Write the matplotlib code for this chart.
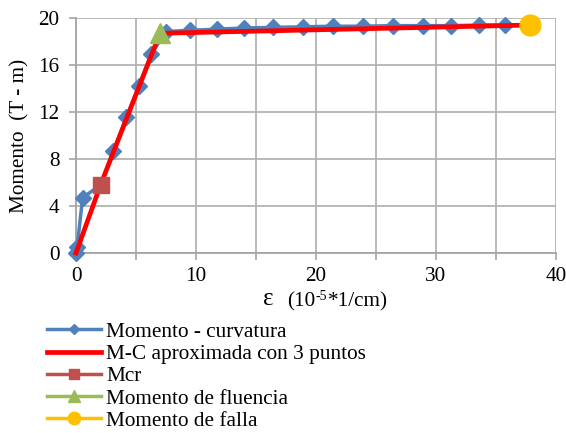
import matplotlib
matplotlib.use("Agg")
import matplotlib.pyplot as plt

plt.rcParams['font.family'] = ['Liberation Serif', 'DejaVu Serif']

# Moment-curvature data (curvature in 1e-5 1/cm, moment in T-m)
curv = [0.0, 0.1, 0.55, 2.05, 3.1, 4.2, 5.25, 6.25, 7.5, 9.5, 11.75, 14.0,
        16.45, 18.9, 21.4, 23.9, 26.4, 28.9, 31.25, 33.6, 35.75]
moment = [0.0, 0.55, 4.7, 5.8, 8.65, 11.55, 14.25, 16.9, 18.85, 18.95, 19.05, 19.15,
          19.2, 19.25, 19.3, 19.3, 19.35, 19.35, 19.35, 19.4, 19.4]

# Trilinear approximation
approx_curv = [0.0, 2.05, 7.0, 37.8]
approx_moment = [0.0, 5.8, 18.7, 19.4]

mcr = (2.05, 5.8)
fluencia = (7.0, 18.7)
falla = (37.8, 19.4)

x_ticks = [0, 5, 10, 15, 20, 25, 30, 35, 40]
x_labels = ['0', '', '10', '', '20', '', '30', '', '40']
y_ticks = [0, 4, 8, 12, 16, 20]

FS = 15.3

fig = plt.figure(figsize=(5.66, 4.33), dpi=100)
ax = fig.add_axes([76/566, 1-253/433, 480/566, 235/433])

ax.plot(curv, moment, color='#4F81BD', lw=2.5, marker='D', ms=8.5,
        label='Momento - curvatura', clip_on=False, zorder=3)
ax.plot(approx_curv, approx_moment, color='#FF0000', lw=3.4,
        label='M-C aproximada con 3 puntos', clip_on=False, zorder=4)
ax.plot([mcr[0]], [mcr[1]], color='#C0504D', lw=2.5, marker='s', ms=11,
        label='Mcr', clip_on=False, zorder=5)
ax.plot([fluencia[0]], [fluencia[1]], color='#9BBB59', lw=2.5, marker='^', ms=15,
        label='Momento de fluencia', clip_on=False, zorder=5)
ax.plot([falla[0]], [falla[1]], color='#FFC000', lw=2.5, marker='o', ms=15,
        label='Momento de falla', clip_on=False, zorder=5)

ax.set_xlim(0, 40)
ax.set_ylim(0, 20)
ax.set_xticks(x_ticks)
ax.set_xticklabels(x_labels)
ax.set_yticks(y_ticks)
ax.tick_params(axis='both', labelsize=FS, color='#A6A6A6', length=5, width=1.2,
               direction='out')
ax.tick_params(axis='y', pad=7)
ax.tick_params(axis='x', pad=5)
ax.grid(True, color='#B3B3B3', lw=1.3)
ax.set_axisbelow(True)
for side in ['top', 'right']:
    ax.spines[side].set_visible(False)
for side in ['left', 'bottom']:
    ax.spines[side].set_color('#A6A6A6')
    ax.spines[side].set_linewidth(1.3)

fig.text(20/566, 1-136/433, 'Momento  (T - m)', fontsize=FS, rotation=90,
         ha='center', va='center')

# Horizontal axis title: larger epsilon, then units with a small raised "-5"
fig.text(268/566, 1-299/433, 'ε', fontsize=18, ha='center', va='center')
renderer = fig.canvas.get_renderer()
W, H = fig.bbox.width, fig.bbox.height
base_y = 1 - 306/433
t1 = fig.text(287/566, base_y, '(10', fontsize=FS, ha='left', va='baseline')
x1 = t1.get_window_extent(renderer).x1 / W
t2 = fig.text(x1 + 0.5/566, base_y + 6/433, '-5', fontsize=10, ha='left', va='baseline')
x2 = t2.get_window_extent(renderer).x1 / W
fig.text(x2 + 0.5/566, base_y, '*1/cm)', fontsize=FS, ha='left', va='baseline')

leg = ax.legend(loc='upper left', bbox_to_anchor=(47/566, 1-322/433),
                bbox_transform=fig.transFigure, frameon=False, fontsize=FS,
                handlelength=2.55, handletextpad=0.25, labelspacing=0.11,
                borderaxespad=0, borderpad=0, markerscale=0.6)

fig.savefig('out.png', dpi=100)
